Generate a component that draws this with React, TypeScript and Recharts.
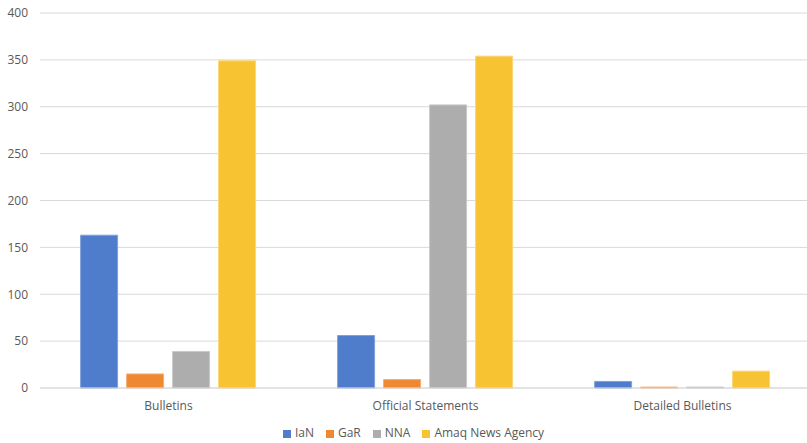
import React from 'react';
import { BarChart, Bar, XAxis, YAxis, CartesianGrid, Legend } from 'recharts';

const CATEGORIES = ['Bulletins', 'Official Statements', 'Detailed Bulletins'];
const IAN = [163, 56, 7];
const GAR = [15, 9, 1];
const NNA = [39, 302, 1];
const AMAQ = [349, 354, 18];
const Y_TICKS = [0, 50, 100, 150, 200, 250, 300, 350, 400];

const SERIES = [
  { key: 'IaN', color: '#507DCB', stroke: '#7FA0DA' },
  { key: 'GaR', color: '#EE8833', stroke: '#F3AD78' },
  { key: 'NNA', color: '#ADADAD', stroke: '#C8C8C8' },
  { key: 'Amaq News Agency', color: '#F8C333', stroke: '#FAD577' },
];

const data = CATEGORIES.map((name, i) => ({
  name,
  IaN: IAN[i],
  GaR: GAR[i],
  NNA: NNA[i],
  'Amaq News Agency': AMAQ[i],
}));

const font = 'Open Sans, Noto Sans, sans-serif';

export default function App() {
  return (
    <div style={{ position: 'absolute', left: 0, top: 0, width: 807, height: 443, overflow: 'hidden', background: '#fff' }}>
      <BarChart
        width={811}
        height={443}
        data={data}
        margin={{ top: 13, right: 0, bottom: 0, left: 0 }}
        barCategoryGap="15.8%"
        barGap={9}
      >
        <CartesianGrid vertical={false} stroke="#D9D9D9" />
        <XAxis
          dataKey="name"
          axisLine={{ stroke: '#D9D9D9' }}
          tickLine={false}
          tick={{ fill: '#595959', fontSize: 12, fontFamily: font }}
          tickMargin={7}
          height={37}
        />
        <YAxis
          domain={[0, 400]}
          ticks={Y_TICKS}
          axisLine={false}
          tickLine={false}
          width={40}
          tick={{ fill: '#595959', fontSize: 12, fontFamily: font }}
          tickMargin={6}
        />
        <Legend
          verticalAlign="bottom"
          align="center"
          iconType="square"
          iconSize={8}
          height={18}
          itemSorter={null}
          wrapperStyle={{ fontFamily: font, fontSize: 12, color: '#595959', lineHeight: '16px', left: 14 }}
          formatter={(v) => <span style={{ color: '#595959', paddingRight: 2 }}>{v}</span>}
        />
        {SERIES.map((s) => (
          <Bar key={s.key} dataKey={s.key} fill={s.color} stroke={s.stroke} strokeWidth={1} isAnimationActive={false} />
        ))}
      </BarChart>
    </div>
  );
}
